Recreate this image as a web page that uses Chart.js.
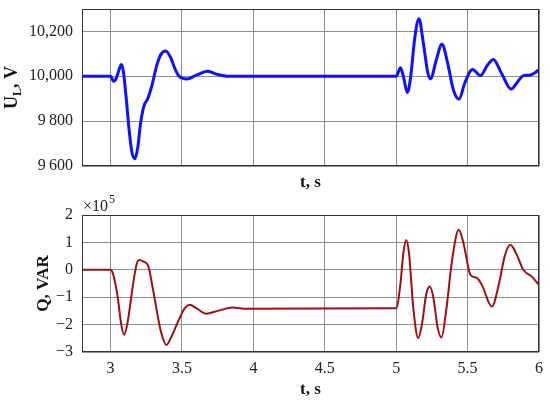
<!DOCTYPE html>
<html>
<head>
<meta charset="utf-8">
<script src="https://cdn.jsdelivr.net/npm/chart.js@4/dist/chart.umd.min.js"></script>
<style>
  body { margin: 0; background: #fff; }
  .panel { position: absolute; left: 0; width: 550px; }
  #top-wrap { top: 0; height: 195px; }
  #bot-wrap { top: 190px; height: 215px; }
</style>
</head>
<body>
<div class="panel" id="top-wrap"><canvas id="u-chart" width="550" height="195"></canvas></div>
<div class="panel" id="bot-wrap"><canvas id="q-chart" width="550" height="215"></canvas></div>
<script>
// time ticks shared by both panels
const X_TICKS = [3, 3.5, 4, 4.5, 5, 5.5, 6];
const X_LABELS = ['3', '3.5', '4', '4.5', '5', '5.5', '6'];

// load voltage U_L, V
const U_TIME = [2.8, 3.0, 3.01, 3.02, 3.035, 3.05, 3.065, 3.077, 3.09, 3.11, 3.13, 3.15, 3.17, 3.19, 3.21,
  3.235, 3.26, 3.29, 3.32, 3.35, 3.386, 3.42, 3.45, 3.48, 3.535, 3.6, 3.68, 3.75, 3.83,
  5.0, 5.03, 5.05, 5.078, 5.1, 5.13, 5.159, 5.19, 5.22, 5.24, 5.28, 5.32, 5.36, 5.40, 5.44,
  5.48, 5.535, 5.59, 5.64, 5.68, 5.74, 5.805, 5.85, 5.89, 5.93, 5.97, 6.0];
const U_VALUES = [10000, 10000, 9990, 9978, 9985, 10010, 10040, 10053, 10020, 9900, 9760, 9660, 9632, 9680, 9790,
  9870, 9900, 9960, 10040, 10095, 10113, 10085, 10035, 10000, 9988, 10005, 10022, 10008, 10000,
  10000, 10038, 10000, 9928, 9990, 10170, 10256, 10150, 10020, 9988, 10070, 10143, 10060, 9940, 9898,
  9970, 10030, 10003, 10050, 10075, 10010, 9943, 9975, 10003, 10005, 10015, 10030];
const U_TICKS = [9600, 9800, 10000, 10200];
const U_LABELS = ['9\u2009600', '9\u2009800', '10,000', '10,200'];

// reactive power Q, x10^5 VAR
const Q_TIME = [2.8, 3.0, 3.02, 3.05, 3.075, 3.095, 3.12, 3.15, 3.18, 3.2, 3.23, 3.263, 3.3, 3.35, 3.39,
  3.43, 3.48, 3.52, 3.554, 3.6, 3.67, 3.75, 3.855, 3.95,
  5.0, 5.03, 5.05, 5.07, 5.09, 5.12, 5.154, 5.18, 5.21, 5.235, 5.26, 5.29, 5.317, 5.35, 5.39, 5.438,
  5.47, 5.52, 5.566, 5.6, 5.67, 5.72, 5.76, 5.8, 5.84, 5.89, 5.95, 6.0];
const Q_VALUES = [0, 0, -0.2, -1.0, -2.0, -2.37, -1.9, -0.8, 0.15, 0.36, 0.3, 0.15, -0.8, -2.2, -2.74,
  -2.4, -1.8, -1.4, -1.28, -1.4, -1.6, -1.5, -1.38, -1.42,
  -1.4, -0.5, 0.6, 1.09, 0.6, -1.4, -2.49, -2.0, -0.9, -0.61, -1.0, -2.1, -2.47, -1.5, 0.3, 1.46,
  1.0, -0.18, -0.30, -0.55, -1.34, -0.5, 0.5, 0.91, 0.6, 0.0, -0.25, -0.55];
const Q_TICKS = [-3, -2, -1, 0, 1, 2];
const Q_LABELS = ['\u22123', '\u22122', '\u22121', '0', '1', '2'];

const SERIF = "'Liberation Serif', 'DejaVu Serif', serif";
const GRID = '#8e8e8e';

const framePlugin = {
  id: 'frame',
  afterDatasetsDraw(chart) {
    const a = chart.chartArea;
    const ctx = chart.ctx;
    ctx.save();
    ctx.strokeStyle = '#333';
    ctx.lineWidth = 1;
    ctx.strokeRect(a.left + 0.5, a.top + 0.5, a.right - a.left - 1, a.bottom - a.top - 1);
    ctx.restore();
  }
};

// y title with a subscript
const uTitlePlugin = {
  id: 'uTitle',
  afterDraw(chart) {
    const ctx = chart.ctx;
    const a = chart.chartArea;
    ctx.save();
    ctx.translate(17, (a.top + a.bottom) / 2);
    ctx.rotate(-Math.PI / 2);
    ctx.fillStyle = '#111';
    ctx.textBaseline = 'alphabetic';
    const big = 'bold 18px ' + SERIF;
    const small = 'bold 12px ' + SERIF;
    ctx.font = big;
    const w1 = ctx.measureText('U').width;
    const w3 = ctx.measureText(', V').width;
    ctx.font = small;
    const w2 = ctx.measureText('L').width;
    let x = -(w1 + w2 + w3) / 2;
    ctx.font = big;
    ctx.fillText('U', x, 0);
    x += w1;
    ctx.font = small;
    ctx.fillText('L', x, 4);
    x += w2;
    ctx.font = big;
    ctx.fillText(', V', x, 0);
    ctx.restore();
  }
};

// exponent label above the lower panel
const expPlugin = {
  id: 'exp',
  afterDraw(chart) {
    const ctx = chart.ctx;
    const a = chart.chartArea;
    ctx.save();
    ctx.fillStyle = '#222';
    ctx.font = '16px ' + SERIF;
    ctx.textBaseline = 'alphabetic';
    const x0 = a.left + 1;
    ctx.fillText('\u00d710', x0, 21);
    const w = ctx.measureText('\u00d710').width;
    ctx.font = '12px ' + SERIF;
    ctx.fillText('5', x0 + w + 1, 13);
    ctx.restore();
  }
};

function xScale(showLabels, titlePadBottom, height, tickPad) {
  return {
    type: 'linear',
    min: 2.8,
    max: 6,
    afterBuildTicks: s => { s.ticks = X_TICKS.map(v => ({ value: v })); },
    afterFit: s => { s.height = height; s.paddingLeft = 0; s.paddingRight = 0; },
    grid: { color: GRID, lineWidth: 1, drawTicks: false },
    border: { display: false },
    ticks: {
      display: showLabels,
      padding: tickPad,
      color: '#222',
      font: { family: SERIF, size: 16 },
      callback: (v, i) => X_LABELS[i]
    },
    title: {
      display: true,
      text: 't, s',
      color: '#111',
      font: { family: SERIF, size: 17, weight: 'bold' },
      padding: { top: 0, bottom: titlePadBottom }
    }
  };
}

function yScale(min, max, ticks, labels, title) {
  return {
    min: min,
    max: max,
    afterBuildTicks: s => { s.ticks = ticks.map(v => ({ value: v })); },
    afterFit: s => { s.width = 82; s.paddingTop = 0; s.paddingBottom = 0; },
    grid: { color: GRID, lineWidth: 1, drawTicks: false },
    border: { display: false },
    ticks: {
      padding: 9,
      color: '#222',
      font: { family: SERIF, size: 16 },
      callback: (v, i) => labels[i]
    },
    title: title
  };
}

const common = {
  responsive: false,
  animation: false,
  events: [],
  plugins: { legend: { display: false }, tooltip: { enabled: false } }
};

new Chart(document.getElementById('u-chart'), {
  type: 'line',
  data: {
    datasets: [{
      data: U_TIME.map((t, i) => ({ x: t, y: U_VALUES[i] })),
      borderColor: '#1010ff',
      borderWidth: 3,
      pointRadius: 0,
      cubicInterpolationMode: 'monotone'
    }]
  },
  options: {
    ...common,
    layout: { padding: { top: 9, right: 11, left: 0, bottom: 0 } },
    scales: {
      x: xScale(false, 2, 29, 0),
      y: yScale(9600, 10300, U_TICKS, U_LABELS, { display: false })
    }
  },
  plugins: [framePlugin, uTitlePlugin]
});

new Chart(document.getElementById('q-chart'), {
  type: 'line',
  data: {
    datasets: [{
      data: Q_TIME.map((t, i) => ({ x: t, y: Q_VALUES[i] })),
      borderColor: '#9e1010',
      borderWidth: 2,
      pointRadius: 0,
      cubicInterpolationMode: 'monotone'
    }]
  },
  options: {
    ...common,
    layout: { padding: { top: 25, right: 11, left: 0, bottom: 0 } },
    scales: {
      x: xScale(true, 5, 53, 7),
      y: yScale(-3, 2, Q_TICKS, Q_LABELS, {
        display: true,
        text: 'Q, VAR',
        color: '#111',
        font: { family: SERIF, size: 17, weight: 'bold' },
        padding: { top: 33, bottom: 0 }
      })
    }
  },
  plugins: [framePlugin, expPlugin]
});
</script>
</body>
</html>
